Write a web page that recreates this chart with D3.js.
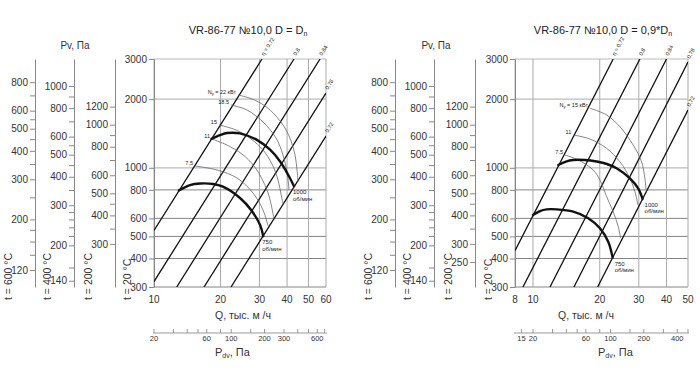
<!DOCTYPE html>
<html><head><meta charset="utf-8">
<script src="https://cdn.jsdelivr.net/npm/d3@7"></script>
<style>body{margin:0;background:#fff}svg{display:block}</style>
</head><body><svg id="c" width="700" height="382"></svg>
<script>
// ---------------- DATA ----------------
const titleA = "VR-86-77 №10,0 D = D";
const titleB = "VR-86-77 №10,0 D = 0,9*D";
const qTicksA = [10, 20, 30, 40, 50, 60];
const qTicksB = [8, 10, 20, 30, 40, 50];
const pvTicks = [3000, 2000, 1000, 800, 600, 500, 400, 300];
const tempNames = ["t = 600 °C", "t = 400 °C", "t = 200 °C", "t = 20 °C"];
const tempFactors = [0.337, 0.438, 0.647, 1];
const t600Labels = [800, 600, 500, 400, 300, 200, 120];
const t600Minor = [700, 550, 450, 350, 250, 180, 160, 140];
const t400Labels = [1000, 800, 600, 500, 400, 300, 200, 140];
const t400Minor = [900, 700, 550, 450, 350, 280, 260, 240, 220, 160];
const t200LabelsA = [1200, 1000, 800, 600, 500, 400, 300];
const t200LabelsB = [1200, 1000, 800, 600, 500, 400, 300, 250];
const t200Minor = [900, 700, 450, 350];
const pdvLabelsA = [20, 60, 100, 200, 300, 600];
const pdvTicksA = [20, 30, 40, 50, 60, 80, 100, 150, 200, 300, 400, 500, 600, 700];
const pdvLabelsB = [15, 20, 60, 100, 200, 400];
const pdvTicksB = [15, 20, 30, 40, 50, 60, 80, 100, 150, 200, 300, 400, 500];
const etaLabels = ["η = 0,72", "0,8", "0,84", "0,78", "0,72"];
// efficiency rays: [Q1, P1, Q2, P2]
const etaLinesA = [[10, 531, 30.8, 3000], [10, 317, 43.0, 3000], [12.67, 300, 56.4, 3000], [16.84, 300, 60, 2128], [22.31, 300, 60, 1378]];
const etaLinesB = [[8, 433, 23.0, 3000], [8.83, 300, 30.34, 3000], [11.93, 300, 40.0, 3000], [15.3, 300, 50, 2910], [19.56, 300, 50, 1792]];
// fan curves (Q thousand m3/h, Pv Pa)
const rpm1000A_Q = [18.2, 19.9, 21.4, 24.5, 29.2, 33.5, 37.2, 40.5, 43.0];
const rpm1000A_P = [1340, 1390, 1420, 1415, 1325, 1200, 1065, 930, 830];
const rpm750A_Q = [12.95, 14.55, 16.15, 18.5, 20.5, 24.5, 27.5, 30.2, 31.2];
const rpm750A_P = [795, 840, 853, 849, 826, 737, 653, 561, 502];
const rpm1000B_Q = [13.0, 14.08, 15.19, 17.15, 19.36, 21.54, 23.82, 27.35, 29.8, 31.2];
const rpm1000B_P = [1028, 1065, 1082, 1082, 1065, 1039, 995, 899, 813, 730];
const rpm750B_Q = [10.0, 10.75, 11.53, 12.79, 15.19, 17.75, 20.04, 21.84, 22.86];
const rpm750B_P = [621, 646, 657, 657, 642, 601, 543, 474, 404];
const rpmLabels = ["1000", "750"];
// power curves
const powerLabelsA = ["22", "18.5", "15", "11", "7.5"];
const n22A_Q = [24.0, 27.76, 31.78, 35.65, 39.15, 41.69, 43.45, 44.37, 44.83];
const n22A_P = [2086, 2004, 1867, 1687, 1495, 1311, 1138, 978, 866];
const n185A_Q = [22.31, 26.35, 31.13, 35.65, 38.34, 39.98, 40.83];
const n185A_P = [1886, 1792, 1588, 1351, 1138, 958, 799];
const n15A_Q = [19.68, 23.5, 27.47, 31.13, 34.19, 36.4, 37.55, 38.34];
const n15A_P = [1541, 1465, 1337, 1197, 1039, 884, 767, 694];
const n11A_Q = [18.3, 21.39, 25.01, 28.35, 31.13, 33.14, 34.91];
const n11A_P = [1337, 1258, 1149, 1018, 875, 752, 596];
const n75A_Q = [15.33, 19.28, 23.75, 28.05, 31.13, 32.8];
const n75A_P = [1018, 978, 902, 775, 653, 556];
const powerLabelsB = ["15", "11", "7.5"];
const n15B_Q = [18.06, 21.48, 24.65, 28.3, 30.88, 31.95, 32.45];
const n15B_P = [1824, 1705, 1514, 1258, 1063, 899, 775];
const n11B_Q = [15.19, 18.06, 21.48, 24.65, 27.35, 28.81, 29.72];
const n11B_P = [1393, 1337, 1217, 1063, 899, 786, 687];
const n75B_Q = [13.94, 16.0, 18.69, 20.04, 21.48, 22.99, 24.23, 24.83];
const n75B_P = [1138, 1082, 978, 884, 747, 642, 552, 492];

// ---------------- DRAW ----------------
const FONT = '"Liberation Sans", Arial, sans-serif';
const svg = d3.select("#c").attr("font-family", FONT);
const TOP = 59, BOT = 287;

function auxAxis(g, xpos, f, labels, minor) {
  const s = d3.scaleLog().domain([300 * f, 3000 * f]).range([BOT, TOP]);
  const ax = g.append("g").attr("transform", `translate(${xpos},0)`);
  ax.call(d3.axisLeft(s).tickValues(labels).tickFormat(d3.format("d")).tickSize(5).tickSizeOuter(0).tickPadding(2));
  if (minor) {
    const m = ax.append("g").call(d3.axisLeft(s).tickValues(minor).tickFormat("").tickSize(5).tickSizeOuter(0));
    m.select(".domain").remove();
  }
  ax.selectAll(".domain, line").attr("stroke", "#888");
  ax.selectAll("text").attr("font-size", 10).attr("fill", "#333").attr("font-family", FONT);
}

function drawChart(c) {
  const g = svg.append("g");
  const L = c.L, R = c.R;
  const x = c.x, y = c.y;
  const clipId = "clip" + c.id;
  svg.append("clipPath").attr("id", clipId).append("rect")
    .attr("x", L).attr("y", TOP).attr("width", R - L).attr("height", BOT - TOP);

  // title
  const t = g.append("text").attr("x", c.titleX).attr("y", 34).attr("text-anchor", "middle")
    .attr("font-size", 11).attr("fill", "#222");
  t.append("tspan").text(c.title);
  t.append("tspan").text("n").attr("font-size", 7).attr("dy", 1.5);

  // Pv label
  g.append("text").attr("x", c.pvLabelX).attr("y", 49).attr("text-anchor", "middle")
    .attr("font-size", 10).attr("fill", "#333").text("Pv, Па");

  // gridlines
  const light = new Set([3000, 2000, 1000]);
  g.selectAll(".hg").data(pvTicks).join("line")
    .attr("x1", L).attr("x2", R).attr("y1", d => y(d)).attr("y2", d => y(d))
    .attr("stroke", d => light.has(d) ? "#bbb" : "#666")
    .attr("stroke-width", d => light.has(d) ? 1.2 : 0.8);
  g.selectAll(".vg").data(c.qTicks).join("line")
    .attr("x1", d => x(d)).attr("x2", d => x(d)).attr("y1", TOP).attr("y2", BOT)
    .attr("stroke", "#aaa").attr("stroke-width", 1);

  // aux temperature axes
  auxAxis(g, c.auxX[0], tempFactors[0], t600Labels, t600Minor);
  auxAxis(g, c.auxX[1], tempFactors[1], t400Labels, t400Minor);
  auxAxis(g, c.auxX[2], tempFactors[2], c.t200Labels, t200Minor);
  auxAxis(g, c.auxX[3], tempFactors[3], pvTicks, null);

  // temperature names (rotated)
  tempNames.forEach((n, i) => {
    g.append("text").attr("transform", `translate(${c.auxX[i] - 23},300) rotate(-90)`)
      .attr("font-size", 10.5).attr("fill", "#333").text(n);
  });

  // Q tick labels
  g.selectAll(".ql").data(c.qTicks).join("text")
    .attr("x", d => x(d)).attr("y", 303).attr("text-anchor", "middle")
    .attr("font-size", 10).attr("fill", "#333").text(d => d);
  g.append("text").attr("x", c.qLabelX).attr("y", 319).attr("font-size", 10.5).attr("fill", "#333")
    .text("Q, тыс. м /ч");

  // Pdv axis
  const pd = c.pdv;
  g.append("line").attr("x1", L - 1).attr("x2", R + 1).attr("y1", 333).attr("y2", 333).attr("stroke", "#999");
  g.selectAll(".pt").data(c.pdvTicks).join("line")
    .attr("x1", d => pd(d)).attr("x2", d => pd(d)).attr("y1", 329).attr("y2", 333).attr("stroke", "#999");
  g.selectAll(".pl").data(c.pdvLabels).join("text")
    .attr("x", d => pd(d)).attr("y", 341).attr("text-anchor", "middle")
    .attr("font-size", 7.5).attr("fill", "#333").text(d => d);
  const pt = g.append("text").attr("x", c.pdvLabelX).attr("y", 356).attr("font-size", 11).attr("fill", "#333");
  pt.append("tspan").text("P");
  pt.append("tspan").text("dv").attr("font-size", 7).attr("dy", 1.5);
  pt.append("tspan").text(", Па").attr("dy", -1.5);

  const plot = g.append("g").attr("clip-path", `url(#${clipId})`);
  // efficiency rays
  c.eta.forEach((e, i) => {
    plot.append("line").attr("x1", x(e[0])).attr("y1", y(e[1])).attr("x2", x(e[2])).attr("y2", y(e[3]))
      .attr("stroke", "#111").attr("stroke-width", 1.3);
    const px = x(e[2]), py = y(e[3]);
    const ang = Math.atan2(y(e[1]) - y(e[3]), x(e[2]) - x(e[0])) * 180 / Math.PI;
    g.append("text").attr("transform", `translate(${px + 2},${py - 3}) rotate(${-ang})`)
      .attr("font-size", 5.5).attr("fill", "#222").text(etaLabels[i]);
  });

  const line = d3.line().x(d => x(d[0])).y(d => y(d[1])).curve(d3.curveCatmullRom.alpha(0.5));
  // power curves
  c.power.forEach((p, i) => {
    const pts = d3.zip(p[0], p[1]);
    plot.append("path").attr("d", line(pts)).attr("fill", "none").attr("stroke", "#666").attr("stroke-width", 0.8);
    const lt = g.append("text").attr("x", x(pts[0][0]) - 2).attr("y", y(pts[0][1]) - 1)
      .attr("text-anchor", "end").attr("font-size", 5.5).attr("fill", "#222");
    if (i === 0) {
      lt.append("tspan").text("N");
      lt.append("tspan").text("у").attr("font-size", 4).attr("dy", 1);
      lt.append("tspan").text(" = " + c.powerLabels[i] + " кВт").attr("dy", -1);
    } else lt.text(c.powerLabels[i]);
  });
  // rpm curves
  c.rpm.forEach((r, i) => {
    const pts = d3.zip(r[0], r[1]);
    plot.append("path").attr("d", line(pts)).attr("fill", "none").attr("stroke", "#111")
      .attr("stroke-width", 2.4).attr("stroke-linecap", "round");
    const end = pts[pts.length - 1];
    const ex = x(end[0]) + c.rpmDx, ey = y(end[1]);
    g.append("text").attr("x", ex).attr("y", ey + 8).attr("font-size", 6).attr("fill", "#222").text(rpmLabels[i]);
    g.append("text").attr("x", ex).attr("y", ey + 14.5).attr("font-size", 6).attr("fill", "#222").text("об/мин");
  });
}

drawChart({
  id: "A", L: 154, R: 326,
  x: d3.scaleLog().domain([10, 60]).range([154, 326]),
  y: d3.scaleLog().domain([300, 3000]).range([BOT, TOP]),
  pdv: d3.scaleLog().domain([20, 720]).range([154, 326]),
  title: titleA, titleX: 248, pvLabelX: 75,
  qTicks: qTicksA, auxX: [35, 74, 115, 154], t200Labels: t200LabelsA,
  qLabelX: 215, pdvLabelX: 215, pdvTicks: pdvTicksA, pdvLabels: pdvLabelsA,
  eta: etaLinesA, powerLabels: powerLabelsA,
  power: [[n22A_Q, n22A_P], [n185A_Q, n185A_P], [n15A_Q, n15A_P], [n11A_Q, n11A_P], [n75A_Q, n75A_P]],
  rpm: [[rpm1000A_Q, rpm1000A_P], [rpm750A_Q, rpm750A_P]], rpmDx: -1
});
drawChart({
  id: "B", L: 515, R: 688,
  x: d3.scaleLog().domain([8, 10, 50]).range([515, 533, 688]),
  y: d3.scaleLog().domain([300, 3000]).range([BOT, TOP]),
  pdv: d3.scaleLog().domain([12.8, 20, 500]).range([515, 533, 688]),
  title: titleB, titleX: 603, pvLabelX: 436,
  qTicks: qTicksB, auxX: [395, 434, 475, 515], t200Labels: t200LabelsB,
  qLabelX: 558, pdvLabelX: 598, pdvTicks: pdvTicksB, pdvLabels: pdvLabelsB,
  eta: etaLinesB, powerLabels: powerLabelsB,
  power: [[n15B_Q, n15B_P], [n11B_Q, n11B_P], [n75B_Q, n75B_P]],
  rpm: [[rpm1000B_Q, rpm1000B_P], [rpm750B_Q, rpm750B_P]], rpmDx: 2
});
</script></body></html>
